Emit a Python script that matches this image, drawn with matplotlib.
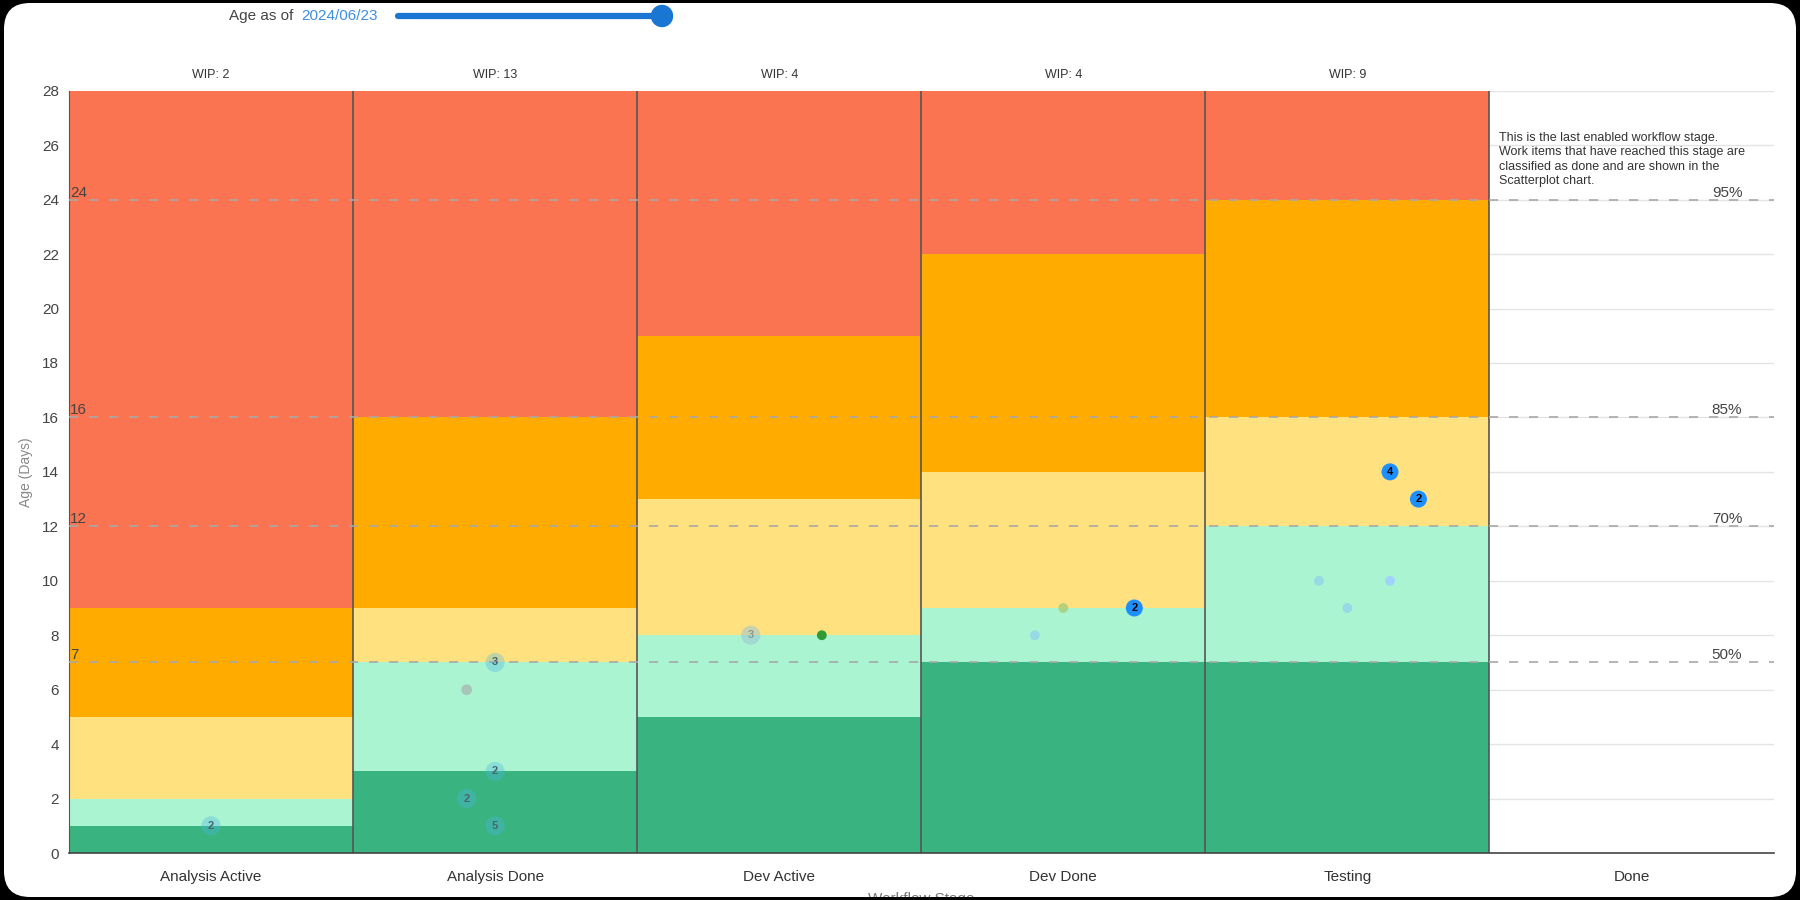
import matplotlib
matplotlib.use('Agg')
import matplotlib.pyplot as plt
from matplotlib.patches import FancyBboxPatch, PathPatch, Circle
from matplotlib.path import Path

plt.rcParams['font.family'] = ['Liberation Sans', 'DejaVu Sans']

# ---- data ----
stages = ["Analysis Active", "Analysis Done", "Dev Active", "Dev Done", "Testing", "Done"]
wip = [2, 13, 4, 4, 9]

# age (days) where each colour band ends, per active stage
dark_green_top = [1, 3, 5, 7, 7]
light_green_top = [2, 7, 8, 9, 12]
yellow_top = [5, 9, 13, 14, 16]
orange_top = [9, 16, 19, 22, 24]
max_age = 28

pct_labels = ["50%", "70%", "85%", "95%"]
pct_days = [7, 12, 16, 24]

# work items: stage index, age, number of items
item_stage = [0, 1, 1, 1, 1, 1, 2, 2, 3, 3, 3, 4, 4, 4, 4, 4]
item_age = [1, 7, 6, 3, 2, 1, 8, 8, 8, 9, 9, 14, 13, 10, 9, 10]
item_count = [2, 3, 1, 2, 2, 5, 3, 1, 1, 1, 2, 4, 2, 1, 1, 1]
item_kind = ['faded', 'faded', 'grey', 'faded', 'faded', 'faded', 'faded2', 'green',
             'light', 'lime', 'blue', 'blue', 'blue', 'light', 'light', 'sky']
item_jitter = [0, 0, -0.1, 0, -0.1, 0, -0.1, 0.15, -0.1, 0, 0.25, 0.15, 0.25, -0.1, 0, 0.15]

done_note = ("This is the last enabled workflow stage.\n"
             "Work items that have reached this stage are\n"
             "classified as done and are shown in the\n"
             "Scatterplot chart.")
age_as_of = "2024/06/23"

styles = {
    'faded': dict(color='#4fb6e6', alpha=0.35, s=190, text='#4a6470'),
    'faded2': dict(color='#9cc6d2', alpha=0.55, s=190, text='#8a9a9a'),
    'grey': dict(color='#a6b2ae', alpha=0.7, s=60, text=None),
    'green': dict(color='#2f9a36', alpha=1.0, s=50, text=None),
    'light': dict(color='#8fd2ec', alpha=0.75, s=50, text=None),
    'lime': dict(color='#aacd7c', alpha=0.85, s=50, text=None),
    'sky': dict(color='#9fd0ff', alpha=0.9, s=50, text=None),
    'blue': dict(color='#1e8fff', alpha=1.0, s=150, text='black'),
}

band_colors = ['#39b37f', '#abf4d2', '#ffe180', '#ffab00', '#fb7452']

fig = plt.figure(figsize=(18, 9), dpi=100)
fig.patch.set_facecolor('white')

# background layer for the slider widget
bg = fig.add_axes([0, 0, 1, 1], zorder=0)
bg.set_xlim(0, 1800)
bg.set_ylim(900, 0)
bg.axis('off')
bg.text(293, 16, "Age as of", ha='right', va='center', fontsize=11, color='#444444')
bg.text(301, 16, age_as_of, ha='left', va='center', fontsize=11, color='#3d8fe0')
bg.plot([398, 662], [16, 16], color='#1976d2', lw=4.5, solid_capstyle='round')
bg.add_patch(Circle((662, 16), 10.5, color='#1976d2'))

ax = fig.add_axes([0.0383, 0.0522, 0.947, 0.847], zorder=1)
ax.set_xlim(-0.5, len(stages) - 0.5)
ax.set_ylim(0, max_age)

x = list(range(len(wip)))
bottoms = [0] * len(wip)
for tops, col in zip([dark_green_top, light_green_top, yellow_top, orange_top,
                      [max_age] * len(wip)], band_colors):
    h = [t - b for t, b in zip(tops, bottoms)]
    ax.bar(x, h, bottom=bottoms, width=1.0, color=col, edgecolor='none', zorder=1)
    bottoms = tops

for i in range(len(stages)):
    ax.axvline(i - 0.5, color='#555555', lw=1.2, zorder=2)

for d, lab in zip(pct_days, pct_labels):
    ax.axhline(d, color='#a8a8a8', lw=1.2, ls=(0, (5.5, 6.5)), zorder=3)
    ax.text(-0.497, d, str(d), ha='left', va='bottom', fontsize=11, color='#444444', zorder=3)
    ax.text(5.39, d, lab, ha='right', va='bottom', fontsize=11, color='#444444', zorder=3)

for i, w in enumerate(wip):
    ax.annotate(f"WIP: {w}", (i, max_age), xytext=(0, 7), textcoords='offset points',
                ha='center', va='bottom', fontsize=9, color='#333333')

ax.text(4.535, 26.5, done_note, ha='left', va='top', fontsize=9, linespacing=1.28,
        color='#333333')

# work item dots
for st, age, cnt, kind, jit in zip(item_stage, item_age, item_count, item_kind, item_jitter):
    sty = styles[kind]
    ax.scatter(st + jit, age, s=sty['s'], color=sty['color'], alpha=sty['alpha'],
               edgecolors='none', zorder=4)
    if sty['text'] and cnt > 1:
        ax.text(st + jit, age, str(cnt), ha='center', va='center', fontsize=8,
                fontweight='bold', color=sty['text'], zorder=5)

ax.set_yticks(range(0, max_age + 1, 2))
ax.set_xticks(range(len(stages)))
ax.set_xticklabels(stages)
ax.yaxis.grid(True, color='#e4e4e4', lw=1)
ax.set_axisbelow(True)
ax.tick_params(axis='y', length=0, pad=7, labelsize=11, labelcolor='#444444')
ax.tick_params(axis='x', length=0, pad=12, labelsize=11, labelcolor='#333333')
for sp in ['top', 'right']:
    ax.spines[sp].set_visible(False)
ax.spines['left'].set_color('#555555')
ax.spines['bottom'].set_color('#444444')
ax.spines['bottom'].set_linewidth(1.2)

ax.set_ylabel('Age (Days)', fontsize=10, color='#888888')
ax.yaxis.set_label_coords(-0.021, 0.5)
ax.set_xlabel('Workflow Stage', fontsize=11, color='#777777')
ax.xaxis.set_label_coords(0.5, -0.051)

# black rounded frame around the screenshot
top = fig.add_axes([0, 0, 1, 1], zorder=10)
top.set_xlim(0, 1800)
top.set_ylim(900, 0)
top.axis('off')
inner = FancyBboxPatch((4, 3), 1792, 894, boxstyle='round,pad=0,rounding_size=26')
outer = Path([(0, 0), (0, 900), (1800, 900), (1800, 0), (0, 0)],
             [Path.MOVETO, Path.LINETO, Path.LINETO, Path.LINETO, Path.CLOSEPOLY])
frame = Path.make_compound_path(outer, inner.get_path())
top.add_patch(PathPatch(frame, facecolor='black', edgecolor='none'))

fig.savefig('out.png', dpi=100)
